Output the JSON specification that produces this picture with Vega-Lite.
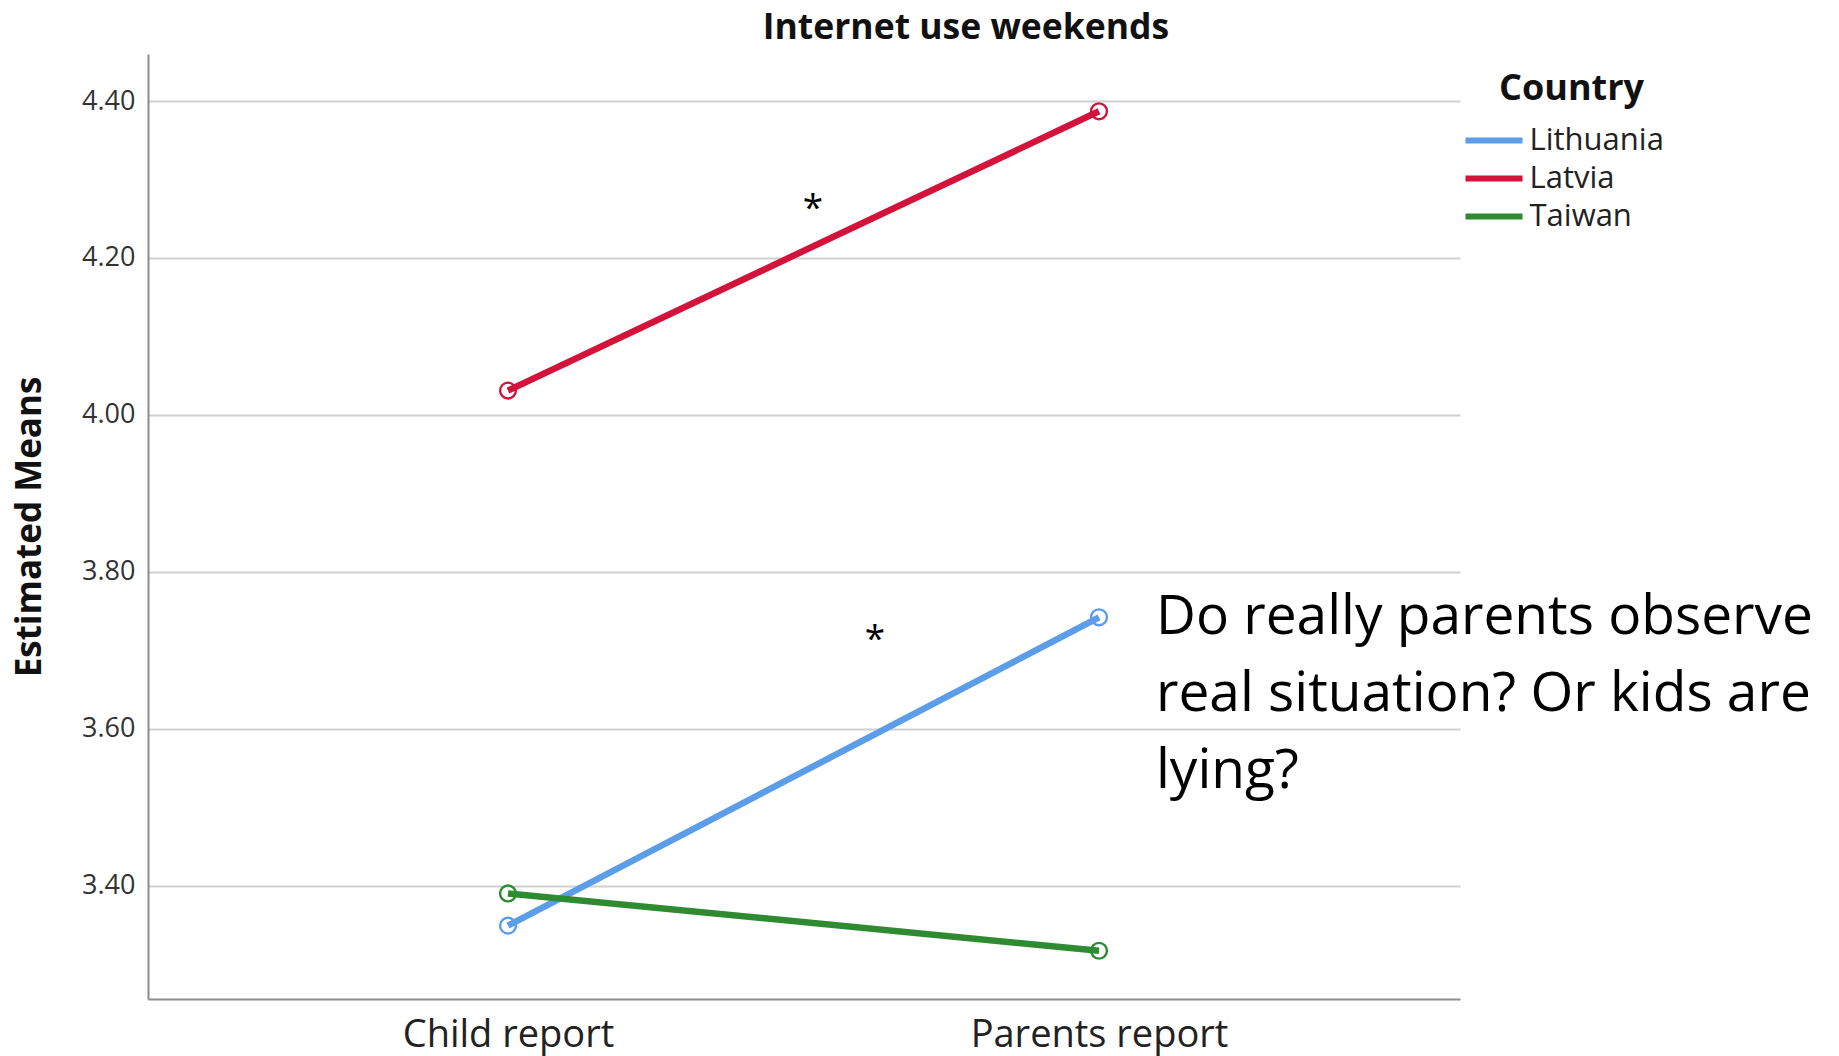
{
  "$schema": "https://vega.github.io/schema/vega-lite/v6.json",
  "width": 1312,
  "height": 945,
  "autosize": {"type": "none"},
  "padding": {"left": 148, "top": 54, "right": 379, "bottom": 57},
  "background": "white",
  "title": {
    "text": "Internet use weekends",
    "font": "Open Sans",
    "fontSize": 35.5,
    "fontWeight": "bold",
    "color": "#111111",
    "anchor": "middle",
    "frame": "group",
    "dx": 162,
    "offset": 8
  },
  "config": {"view": {"stroke": null}, "font": "Open Sans"},
  "datasets": {
    "means": [
      {"report": "Child report", "report_order": 0, "country": "Lithuania", "mean": 3.349},
      {"report": "Parents report", "report_order": 1, "country": "Lithuania", "mean": 3.742},
      {"report": "Child report", "report_order": 0, "country": "Latvia", "mean": 4.031},
      {"report": "Parents report", "report_order": 1, "country": "Latvia", "mean": 4.387},
      {"report": "Child report", "report_order": 0, "country": "Taiwan", "mean": 3.390},
      {"report": "Parents report", "report_order": 1, "country": "Taiwan", "mean": 3.317}
    ],
    "stars": [
      {"report_order": 0.516, "mean": 4.262, "label": "*"},
      {"report_order": 0.621, "mean": 3.713, "label": "*"}
    ],
    "note": [
      {"report_order": 1.0964, "mean": 3.721, "lines": ["Do really parents observe", "real situation? Or kids are", "lying?"]}
    ]
  },
  "layer": [
    {
      "data": {"name": "means"},
      "mark": {
        "type": "line",
        "strokeWidth": 6.5,
        "point": {"filled": false, "size": 250, "strokeWidth": 2.4}
      },
      "encoding": {
        "x": {
          "field": "report_order",
          "type": "quantitative",
          "scale": {"domain": [-0.6091, 1.6108], "nice": false, "zero": false},
          "axis": {
            "values": [0, 1],
            "labelExpr": "datum.value == 0 ? 'Child report' : 'Parents report'",
            "title": null,
            "grid": false,
            "ticks": false,
            "tickSize": 0,
            "labelFont": "Open Sans",
            "labelFontSize": 38,
            "labelColor": "#222222",
            "labelPadding": 17,
            "labelLimit": 0,
            "labelFlush": false,
            "labelOverlap": false,
            "domainColor": "#8c8c8c",
            "domainWidth": 2
          }
        },
        "y": {
          "field": "mean",
          "type": "quantitative",
          "scale": {"domain": [3.2555, 4.46], "nice": false, "zero": false},
          "axis": {
            "values": [3.4, 3.6, 3.8, 4.0, 4.2, 4.4],
            "format": ".2f",
            "title": "Estimated Means",
            "titleFont": "Open Sans",
            "titleFontSize": 35,
            "titleFontWeight": "bold",
            "titleColor": "#111111",
            "titleX": -119,
            "titleY": 472.5,
            "titleAngle": -90,
            "titleAlign": "center",
            "titleBaseline": "middle",
            "grid": true,
            "gridColor": "#d0d0d0",
            "gridWidth": 2,
            "ticks": false,
            "tickSize": 0,
            "labelFont": "Open Sans",
            "labelFontSize": 27,
            "labelColor": "#333333",
            "labelPadding": 13,
            "domainColor": "#8c8c8c",
            "domainWidth": 2
          }
        },
        "color": {
          "field": "country",
          "type": "nominal",
          "scale": {
            "domain": ["Lithuania", "Latvia", "Taiwan"],
            "range": ["#5b9de9", "#d4133b", "#2e8b31"]
          },
          "legend": {
            "orient": "none",
            "legendX": 1330.5,
            "legendY": 18,
            "title": "Country",
            "titleFont": "Open Sans",
            "titleFontSize": 36,
            "titleFontWeight": "bold",
            "titleColor": "#111111",
            "titleAnchor": "middle",
            "titlePadding": 17,
            "labelFont": "Open Sans",
            "labelFontSize": 31,
            "labelColor": "#222222",
            "labelOffset": 20,
            "symbolType": "M-2.85,0H2.85",
            "symbolSize": 400,
            "symbolStrokeWidth": 6,
            "rowPadding": 6,
            "padding": 0
          }
        }
      }
    },
    {
      "data": {"name": "stars"},
      "mark": {"type": "text", "font": "Open Sans", "fontSize": 37, "color": "#000000", "align": "center", "baseline": "middle"},
      "encoding": {
        "x": {"field": "report_order", "type": "quantitative"},
        "y": {"field": "mean", "type": "quantitative"},
        "text": {"field": "label"}
      }
    },
    {
      "data": {"name": "note"},
      "mark": {"type": "text", "font": "Open Sans", "fontSize": 55, "lineHeight": 77, "color": "#000000", "align": "left", "baseline": "alphabetic"},
      "encoding": {
        "x": {"field": "report_order", "type": "quantitative"},
        "y": {"field": "mean", "type": "quantitative"},
        "text": {"field": "lines"}
      }
    }
  ]
}
